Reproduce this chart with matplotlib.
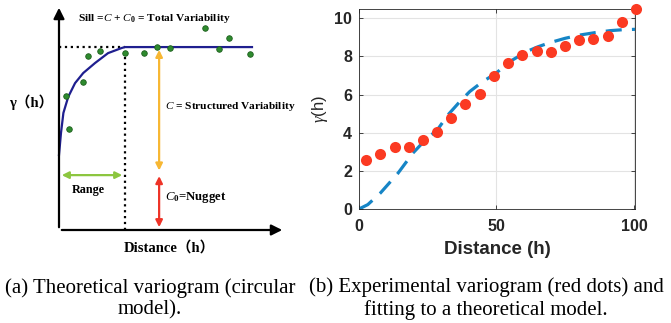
import numpy as np
import matplotlib.pyplot as plt

# ---- (a) theoretical variogram (illustration, sill normalised to 1) ----
sill = 1.0
nugget = 0.31
model_range = 3.0
curve_h = [0.0, 0.09, 0.2, 0.42, 0.73, 1.1, 1.64, 2.23, 2.85, 3.0, 8.77]
curve_g = [0.41, 0.53, 0.64, 0.728, 0.803, 0.858, 0.913, 0.967, 0.995, 1.0, 1.0]
pts_h = [0.32, 0.45, 1.09, 1.32, 1.86, 3.0, 3.86, 4.45, 5.05, 6.64, 7.27, 7.73, 8.68]
pts_g = [0.732, 0.552, 0.809, 0.951, 0.978, 0.967, 0.967, 1.0, 0.995, 1.104, 0.989, 1.049, 0.962]
arrow_x = 4.55

# ---- (b) experimental variogram + fitted model ----
dist = [2.7, 7.8, 13.0, 18.1, 23.3, 28.5, 33.6, 38.7, 43.9, 49.0,
        54.2, 59.3, 64.6, 69.7, 74.9, 80.1, 85.2, 90.4, 95.5, 100.7]
gamma = [2.55, 2.88, 3.23, 3.26, 3.61, 4.03, 4.76, 5.53, 6.02, 6.96,
         7.63, 8.05, 8.27, 8.25, 8.53, 8.85, 8.90, 9.07, 9.79, 10.47]
fit_h = [0, 3.2, 7.8, 14.2, 19.6, 24.0, 28.5, 32.4, 36.5, 40.3, 45.0, 49.6,
         54.9, 60.9, 65.0, 69.4, 75.0, 80.3, 86.0, 91.3, 96.0, 100.4]
fit_g = [0, 0.23, 0.84, 1.88, 2.93, 3.60, 4.15, 4.94, 5.60, 6.16, 6.68, 7.09,
         7.73, 8.25, 8.50, 8.72, 8.95, 9.12, 9.25, 9.35, 9.40, 9.42]

plt.rcParams['mathtext.fontset'] = 'custom'
plt.rcParams['mathtext.rm'] = 'Liberation Serif:bold'
plt.rcParams['mathtext.it'] = 'Liberation Serif:italic'

W, H = 671, 323
fig = plt.figure(figsize=(W / 100, H / 100), dpi=100)

def px_axes(x0, y0, x1, y1):
    # pixel box (top-left origin) -> figure fraction
    return fig.add_axes([x0 / W, 1 - y1 / H, (x1 - x0) / W, (y1 - y0) / H])

# ---------------- left panel ----------------
axa = px_axes(59, 5, 285, 230)
axa.set_xlim(0, 10.27)
axa.set_ylim(0, 1.23)
axa.axis('off')
serif = ['Liberation Serif', 'Noto Sans CJK SC']

# coordinate axes with arrows
ax_arrow = dict(arrowstyle='-|>', color='black', lw=1.6, mutation_scale=16)
axa.annotate('', xy=(0, 1.23), xytext=(0, 0), arrowprops=ax_arrow, annotation_clip=False)
axa.annotate('', xy=(10.27, 0), xytext=(0, 0), arrowprops=ax_arrow, annotation_clip=False)

axa.plot([0, model_range], [sill, sill], ls=':', color='black', lw=1.6, clip_on=False)
axa.plot([model_range, model_range], [0, sill], ls=':', color='black', lw=1.6, clip_on=False)
axa.plot(curve_h, curve_g, color='#1f1f8f', lw=1.6, clip_on=False)
axa.plot(pts_h, pts_g, 'o', ms=4, color='#2e8b2e', mec='#1d5e1d', mew=0.6, clip_on=False)

axa.annotate('', xy=(arrow_x, sill), xytext=(arrow_x, nugget),
             arrowprops=dict(arrowstyle='<|-|>', color='#f7b733', lw=1.6, mutation_scale=10))
axa.annotate('', xy=(arrow_x, nugget), xytext=(arrow_x, 0),
             arrowprops=dict(arrowstyle='<|-|>', color='#ee3327', lw=1.6, mutation_scale=10))
axa.annotate('', xy=(0, 0.30), xytext=(model_range, 0.30),
             arrowprops=dict(arrowstyle='<|-|>', color='#8cc63f', lw=1.6, mutation_scale=10))

axa.text(0.85, 1.155, r'Sill =$C$ + $C_0$ = Total Variability', family=serif,
         fontweight='bold', fontsize=8.2, ha='left', va='center')
axa.text(4.8, 0.675, r'$C$ = Structured Variability', family=serif,
         fontweight='bold', fontsize=8.2, ha='left', va='center')
axa.text(0.6, 0.22, 'Range', family=serif, fontweight='bold', fontsize=8.7,
         ha='left', va='center')
axa.text(4.8, 0.175, r'$C_0$=Nugget', family=serif, fontweight='bold', fontsize=9.2,
         ha='left', va='center')
axa.text(-0.25, 0.70, 'γ（h）', family=serif, fontweight='bold', fontsize=10.5,
         ha='right', va='center')
axa.text(5.0, -0.095, 'Distance（h）', family=serif, fontweight='bold', fontsize=10.5,
         ha='center', va='center')

# ---------------- right panel ----------------
axb = px_axes(359, 9.3, 635, 209)
axb.plot(fit_h, fit_g, ls='--', color='#1685c6', lw=2.3, dashes=(5, 3.2), zorder=2)
axb.plot(dist, gamma, 'o', ms=8, color='#fb3a22', mec='none', zorder=3, clip_on=False)
axb.set_xlim(0, 100.4)
axb.set_ylim(0, 10.47)
axb.set_xticks([0, 50, 100])
axb.set_yticks([0, 2, 4, 6, 8, 10])
axb.grid(True, color='#e3e3e3', lw=0.8)
axb.set_axisbelow(True)
axb.tick_params(direction='in', top=True, right=True, length=3, width=0.6,
                labelsize=11.5, colors='#262626', pad=5)
axb.tick_params(axis='x', pad=7)
for lab in axb.get_xticklabels() + axb.get_yticklabels():
    lab.set_fontweight('bold')
    lab.set_family('Liberation Sans')
for s in axb.spines.values():
    s.set_color('#262626')
    s.set_linewidth(0.6)
axb.set_xlabel('Distance (h)', fontsize=13.5, fontweight='bold', family='Liberation Sans',
               color='#262626', labelpad=5)
axb.set_ylabel(r'$\gamma$(h)', fontsize=12, family='Liberation Sans', color='#262626',
               labelpad=3)

# ---------------- captions ----------------
fig.text(150 / W, 1 - 299 / H, '(a) Theoretical variogram (circular\nmodel).',
         family='Liberation Serif', fontsize=15, ha='center', va='center',
         linespacing=1.2, multialignment='center')
fig.text(486 / W, 1 - 299 / H, '(b) Experimental variogram (red dots) and\nfitting to a theoretical model.',
         family='Liberation Serif', fontsize=15, ha='center', va='center',
         linespacing=1.2, multialignment='center')

fig.savefig('out.png', dpi=100)
